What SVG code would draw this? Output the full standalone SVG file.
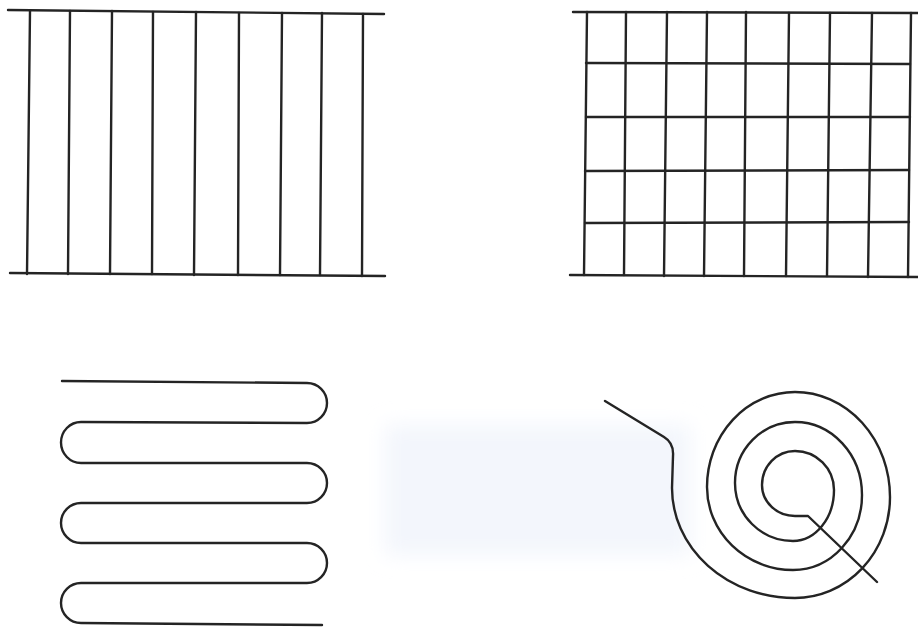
<svg xmlns="http://www.w3.org/2000/svg" width="918" height="631" viewBox="0 0 918 631">
  <style>
    .ln { stroke: #242424; stroke-width: 2.4; fill: none; stroke-linecap: round; stroke-linejoin: round; }
  </style>
  <defs>
    <filter id="soft" x="-20%" y="-20%" width="140%" height="140%">
      <feGaussianBlur stdDeviation="10"/>
    </filter>
  </defs>
  <rect x="0" y="0" width="918" height="631" fill="#ffffff"/>
  <rect x="385" y="425" width="305" height="130" fill="#f3f6fc" filter="url(#soft)"/>

  <g id="parallel-panel">
    <line class="ln" x1="8" y1="10" x2="384" y2="14"/>
    <line class="ln" x1="10" y1="273" x2="385" y2="276"/>
    <line class="ln" x1="30" y1="11" x2="27" y2="274"/>
    <line class="ln" x1="70" y1="11" x2="68" y2="274"/>
    <line class="ln" x1="112" y1="11" x2="110" y2="274"/>
    <line class="ln" x1="153" y1="12" x2="152" y2="274"/>
    <line class="ln" x1="196" y1="12" x2="194" y2="275"/>
    <line class="ln" x1="239" y1="13" x2="238" y2="275"/>
    <line class="ln" x1="282" y1="13" x2="280" y2="275"/>
    <line class="ln" x1="322" y1="13" x2="320" y2="275"/>
    <line class="ln" x1="363" y1="14" x2="362" y2="276"/>
  </g>

  <g id="grid-panel">
    <line class="ln" x1="573" y1="12" x2="918" y2="13"/>
    <line class="ln" x1="570" y1="275" x2="918" y2="277"/>
    <line class="ln" x1="587" y1="12" x2="584" y2="275"/>
    <line class="ln" x1="626" y1="12" x2="624" y2="275"/>
    <line class="ln" x1="667" y1="12" x2="664" y2="276"/>
    <line class="ln" x1="707" y1="12" x2="704" y2="276"/>
    <line class="ln" x1="746" y1="12" x2="744" y2="276"/>
    <line class="ln" x1="789" y1="13" x2="786" y2="276"/>
    <line class="ln" x1="830" y1="13" x2="827" y2="276"/>
    <line class="ln" x1="872" y1="13" x2="868" y2="277"/>
    <line class="ln" x1="911" y1="13" x2="908" y2="277"/>
    <line class="ln" x1="586" y1="63" x2="910" y2="64"/>
    <line class="ln" x1="586" y1="117" x2="910" y2="117"/>
    <line class="ln" x1="585" y1="171" x2="909" y2="170"/>
    <line class="ln" x1="585" y1="223" x2="909" y2="222"/>
  </g>

  <g id="serpentine-panel">
    <path class="ln" d="M 62 381 L 307 383 A 20 20 0 0 1 307 423 L 81 422 A 20 20.5 0 0 0 81 463 L 307 463 A 20 20 0 0 1 307 503 L 81 503 A 20 20 0 0 0 81 543 L 307 543 A 20 20 0 0 1 307 583 L 81 583 A 20 20 0 0 0 81 623 L 322 625"/>
  </g>

  <g id="spiral-panel">
    <path class="ln" d="M 605 401 L 664 437 Q 674 443 673 456 L 672 488 A 123 110 0 0 0 795 598 A 95 101 0 0 0 890 497 A 95 105 0 0 0 795 392 A 88 95 0 0 0 707 487 A 86 83 0 0 0 793 570 A 69 75 0 0 0 862 495 A 67 73 0 0 0 795 422 A 60 61 0 0 0 735 483 A 58 58 0 0 0 793 541 A 41 51 0 0 0 834 490 A 39 39 0 0 0 795 451 A 33 34 0 0 0 762 485 A 33 31 0 0 0 795 516 L 808 516 L 877 582"/>
  </g>
</svg>
